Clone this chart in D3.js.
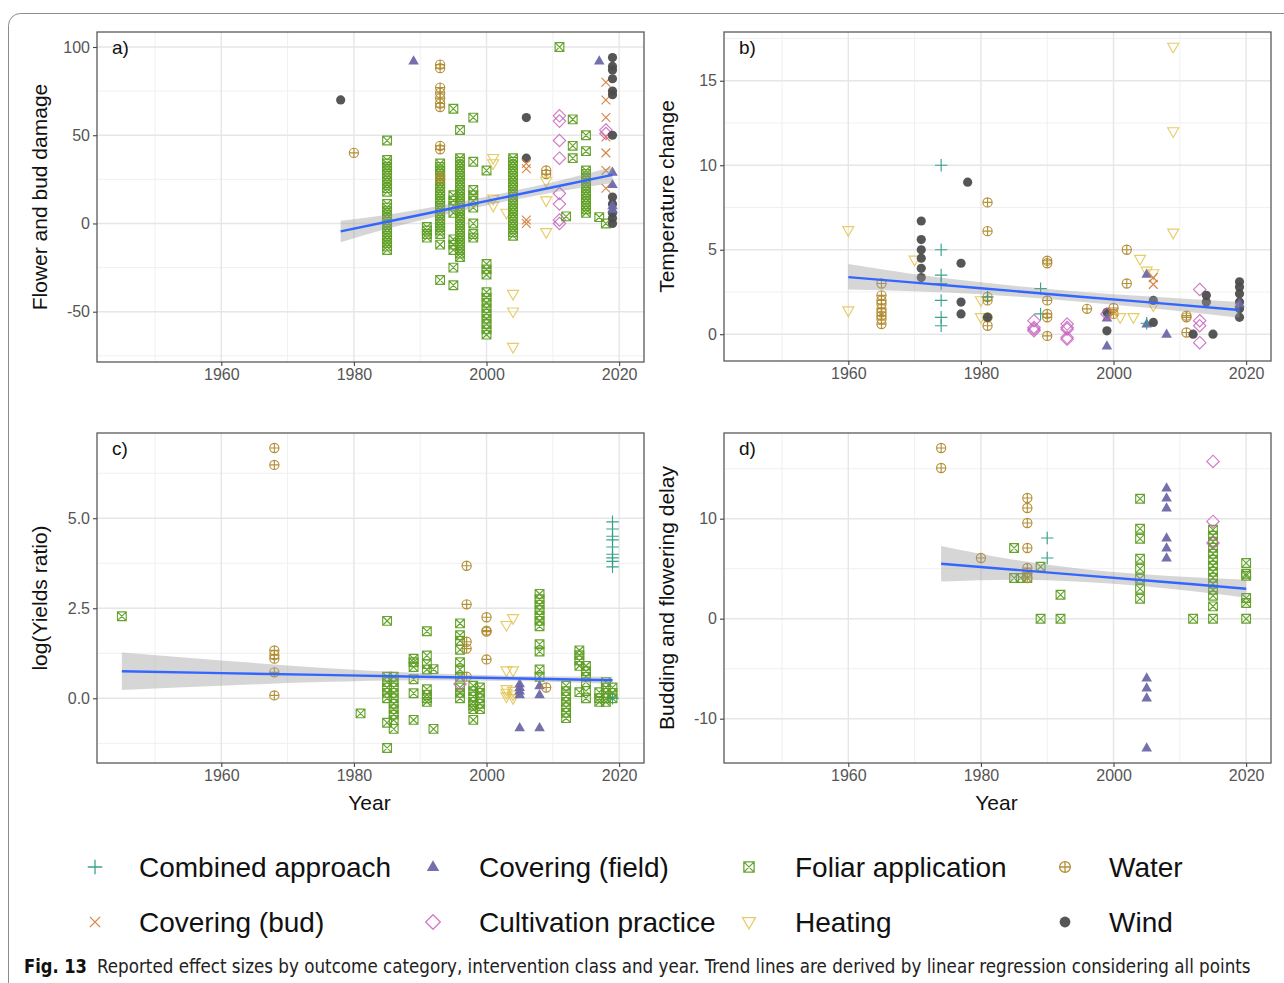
<!DOCTYPE html>
<html><head><meta charset="utf-8">
<script src="https://cdn.jsdelivr.net/npm/d3@7"></script>
<style>body{margin:0;background:#fff}svg{display:block}</style>
</head><body>
<svg id="chart" width="1284" height="983"></svg>
<script>
// ---------------- DATA ----------------
const categories = ["Combined approach","Covering (bud)","Covering (field)","Cultivation practice","Foliar application","Heating","Water","Wind"];
const categoryCodes = ["C","B","T","P","F","H","W","N"];
const categoryColors = ["#2e9e86","#d4803c","#6c68a6","#c862bd","#5f9f24","#e2c44e","#b08a2e","#4d4d4d"];
const yearTicks = [1960,1980,2000,2020];
const panelLabels = ["a)","b)","c)","d)"];
const yTitles = ["Flower and bud damage","Temperature change","log(Yields ratio)","Budding and flowering delay"];
const yTicksA = [-50,0,50,100];
const yTicksB = [0,5,10,15];
const yTicksC = [0,2.5,5];
const yTicksD = [-10,0,10];
const xTitle = "Year";
const caption = "Reported effect sizes by outcome category, intervention class and year. Trend lines are derived by linear regression considering all points";
const captionLead = "Fig. 13";

// points: [class code, year, [values]]
const pointsA = [
  ["N",1978,[70]],["W",1980,[40]],["T",1989,[92]],
  ["F",1985,[47,36,34,32,30,28,26,24,22,20,18,11,9,7,5,3,1,-1,-3,-5,-7,-9,-11,-13,-15]],
  ["F",1991,[-2,-4,-6,-8]],
  ["F",1993,[34,32,30,28,26,24,22,20,18,16,14,12,10,8,6,4,2,0,-2,-4,-6,-12,-32]],
  ["W",1993,[90,88,77,74,71,68,66,44,42,27,25]],
  ["F",1995,[65,16,13,10,6,-9,-12,-15,-25,-35]],
  ["F",1996,[53,37,35,33,31,29,27,25,23,21,19,17,15,13,11,9,7,5,3,1,-1,-3,-5,-7,-9,-11,-13,-15,-17,-19]],
  ["F",1998,[60,35,19,16,13,9,0,-6,-8]],
  ["F",2000,[30,-23,-26,-29,-39,-42,-45,-48,-51,-54,-57,-60,-63]],
  ["H",2001,[37,34,14,10]],["H",2003,[6]],
  ["F",2004,[37,35,33,31,29,27,25,23,21,19,17,15,13,11,9,7,5,3,1,-1,-3,-5,-7]],
  ["H",2004,[-40,-50,-70]],
  ["N",2006,[60,37]],["B",2006,[34,31,2,0]],
  ["W",2009,[30,28]],["H",2009,[24,13,-5]],
  ["P",2011,[61,58,47,37,17,11,2,0]],["F",2011,[100]],["F",2012,[4]],["F",2013,[59,44,37]],
  ["F",2015,[50,41,30,28,26,24,22,20,18,16,14,12,10,8,6]],
  ["F",2017,[3.6]],["F",2018,[0]],["T",2017,[92]],
  ["B",2018,[80,70,60,49,40,30,20]],["P",2018,[53,51]],
  ["N",2019,[94,89,87,82,75,73,50,15,11,6,3,0]],["T",2019,[29,22,10,8]]
];
const pointsB = [
  ["H",1960,[6.15,1.4]],["W",1965,[3.0,2.3,2.0,1.8,1.5,1.3,1.1,0.9,0.6]],
  ["H",1970,[4.4]],["N",1971,[6.7,5.6,5.0,4.5,3.9,3.35]],
  ["C",1974,[10,5,3.5,3.0,2.0,1.0,0.5]],
  ["N",1977,[4.2,1.9,1.2]],["N",1978,[9.0]],
  ["H",1980,[2.0,1.0]],["W",1981,[7.8,6.1,2.2,2.0,1.0,0.5]],["N",1981,[1.0]],["C",1981,[2.2]],
  ["P",1988,[0.8,0.4,0.3,0.2]],["C",1989,[2.7,1.2]],
  ["W",1990,[4.35,4.2,2.0,1.2,1.0,-0.1]],
  ["P",1993,[0.6,0.4,0.3,-0.2,-0.3]],["W",1996,[1.5]],
  ["N",1999,[1.3,0.2]],["T",1999,[0.95,-0.7]],["P",1999,[1.2]],
  ["W",2000,[1.55,1.2]],["B",2000,[1.3]],
  ["H",2001,[1.0]],["W",2002,[5.0,3.0]],["H",2003,[1.0]],["H",2004,[4.45]],["H",2005,[3.75]],
  ["T",2005,[3.55,0.6]],["C",2005,[0.65]],
  ["H",2006,[3.6,1.7]],["B",2006,[3.35,2.95]],["N",2006,[2.0,0.7]],
  ["T",2008,[0]],["H",2009,[17.0,12.0,6.0]],
  ["W",2011,[1.1,1.0,0.1]],["N",2012,[0]],
  ["P",2013,[2.65,0.8,0.5,-0.5]],["N",2014,[2.3,1.9]],["N",2015,[0]],
  ["N",2019,[3.1,2.8,2.4,1.9,1.5,1.0]],["T",2019,[1.8]]
];
const pointsC = [
  ["F",1945,[2.28]],["W",1968,[6.95,6.48,1.33,1.2,1.1,0.72,0.08]],
  ["F",1981,[-0.42]],
  ["F",1985,[2.15,0.6,0.45,0.3,0.15,0,-0.68,-1.38]],
  ["F",1986,[0.6,0.45,0.3,0.15,0,-0.15,-0.3,-0.45,-0.6,-0.85]],
  ["F",1989,[1.1,1.0,0.87,0.53,0.14,-0.6]],
  ["F",1991,[1.86,1.19,0.95,0.8,0.25,0.1,0,-0.1]],
  ["F",1992,[0.81,-0.85]],
  ["F",1996,[2.08,1.75,1.6,1.35,1.0,0.8,0.6,0.3,0.15,0]],["P",1996,[0.4]],
  ["W",1997,[3.68,2.61,1.57,1.38,0.6]],
  ["F",1998,[0.35,0.2,0.05,-0.1,-0.2,-0.3,-0.6]],
  ["F",1999,[0.3,0.15,0,-0.15,-0.3]],
  ["W",2000,[2.25,1.88,1.85,1.08]],
  ["H",2003,[2.03,0.77,0.25,0.15,0.05]],["H",2004,[2.22,0.77,0.2,0.1,0]],
  ["T",2005,[0.4,0.3,0.2,0.1,-0.82]],
  ["F",2008,[2.9,2.75,2.6,2.45,2.3,2.15,2.0,1.5,1.3,0.8,0.6]],["T",2008,[0.35,0.1,-0.82]],
  ["W",2009,[0.3]],
  ["F",2012,[0.35,0.2,0.05,-0.1,-0.25,-0.4,-0.55]],
  ["F",2014,[1.33,1.2,1.05,0.9,0.17]],
  ["F",2015,[0.9,0.75,0.6,0.45,0.2,0]],
  ["F",2017,[0.17,0,-0.1]],["F",2018,[0.45,0.3,0.15,0,-0.1]],["F",2019,[0.3,0.15,0]],
  ["C",2019,[4.9,4.7,4.5,4.4,4.2,4.0,3.9,3.8,3.65,0]]
];
const pointsD = [
  ["W",1974,[17.07,15.07]],["W",1980,[6.07]],
  ["F",1985,[7.07,4.07]],["F",1986,[4.07]],["F",1987,[4.07]],
  ["W",1987,[12.07,11.07,9.57,7.07,5.07,4.6,4.07]],
  ["F",1989,[5.2,0]],["C",1990,[8.07,6.07]],["F",1992,[2.4,0]],
  ["F",2004,[12,9,8,6,5,4,3,2]],
  ["T",2005,[-5.93,-6.93,-7.93,-12.93]],
  ["T",2008,[13.07,12.07,11.07,8.07,7.07,6.07]],
  ["F",2012,[0]],
  ["F",2015,[8.9,8.3,7.7,7.1,6.5,5.9,5.3,4.7,4.1,3.5,2.9,2.3,1.23,0]],
  ["P",2015,[15.73,9.73,7.57]],
  ["F",2020,[5.57,4.5,4.3,2.07,1.57,0]]
];
// trend: [year, fit, lower, upper]
const trendA = [[1978,-4.5,-10.6,1.6],[1985,1.0,-3.0,5.0],[1993,7.2,4.4,10.0],[2001,13.5,11.0,16.0],[2010,20.5,17.6,23.4],[2019,27.5,23.0,32.0]];
const trendB = [[1960,3.38,2.65,4.15],[1970,3.05,2.55,3.55],[1980,2.72,2.37,3.07],[1995,2.22,1.92,2.52],[2005,1.9,1.56,2.24],[2019,1.43,0.98,1.9]];
const trendC = [[1945,0.75,0.23,1.27],[1960,0.70,0.35,1.05],[1975,0.65,0.45,0.85],[1990,0.6,0.5,0.7],[2005,0.55,0.48,0.62],[2019,0.5,0.4,0.6]];
const trendD = [[1974,5.5,3.72,7.28],[1985,4.9,3.9,5.9],[1995,4.36,3.7,5.0],[2005,3.82,3.22,4.42],[2012,3.44,2.74,4.14],[2020,3.0,2.1,3.9]];

// ---------------- DRAWING ----------------
const svg = d3.select("#chart");
const FONT = "'Liberation Sans', Arial, Helvetica, sans-serif";
const color = d3.scaleOrdinal().domain(categoryCodes).range(categoryColors);
const hyphen = f => (d => f(d).replace("\u2212", "-"));

// outer frame
svg.append("rect").attr("x",8.5).attr("y",13.5).attr("width",1300).attr("height",1000)
  .attr("rx",12).attr("fill","none").attr("stroke","#8c8c8c").attr("stroke-width",1);

function shapePath(code, r) {
  switch (code) {
    case "C": { const a = r*1.35; return `M${-a},0H${a}M0,${-a}V${a}`; }
    case "B": { const a = r*0.95; return `M${-a},${-a}L${a},${a}M${-a},${a}L${a},${-a}`; }
    case "T": return `M0,${-r*1.25}L${r*1.15},${r*0.75}L${-r*1.15},${r*0.75}Z`;
    case "P": { const a = r*1.35; return `M0,${-a}L${a},0L0,${a}L${-a},0Z`; }
    case "F": { const a = r*0.95; return `M${-a},${-a}H${a}V${a}H${-a}ZM${-a},${-a}L${a},${a}M${-a},${a}L${a},${-a}`; }
    case "H": return `M${-r*1.2},${-r*0.8}H${r*1.2}L0,${r*1.3}Z`;
    case "W": return `M${-r},0A${r},${r} 0 1 0 ${r},0A${r},${r} 0 1 0 ${-r},0ZM${-r},0H${r}M0,${-r}V${r}`;
    case "N": return `M${-r},0A${r},${r} 0 1 0 ${r},0A${r},${r} 0 1 0 ${-r},0Z`;
  }
}
function drawShape(g, code, x, y, r, sw) {
  const filled = code === "T" || code === "N";
  g.append("path").attr("d", shapePath(code, r))
    .attr("transform", `translate(${x},${y})`)
    .attr("fill", filled ? color(code) : "none")
    .attr("stroke", filled ? "none" : color(code))
    .attr("stroke-width", sw)
    .attr("opacity", code === "H" || code === "P" ? 0.85 : 0.95);
}

const allYears = [pointsA,pointsB,pointsC,pointsD].flatMap(p => p.map(d => d[1]));
const yrExt = d3.extent(allYears);
const yrPad = (yrExt[1]-yrExt[0])*0.05;
const xDomain = [yrExt[0]-yrPad, yrExt[1]+yrPad];

const panels = [
  {pts: pointsA, trend: trendA, ticks: yTicksA, fmt: hyphen(d3.format("d")), box: [97,32,644,362], xt: false},
  {pts: pointsB, trend: trendB, ticks: yTicksB, fmt: hyphen(d3.format("d")), box: [724,32,1271,361], xt: false},
  {pts: pointsC, trend: trendC, ticks: yTicksC, fmt: hyphen(d3.format(".1f")), box: [97,433,644,763], xt: true},
  {pts: pointsD, trend: trendD, ticks: yTicksD, fmt: hyphen(d3.format("d")), box: [724,433,1271,763], xt: true}
];

panels.forEach((p, i) => {
  const [x0,y0,x1,y1] = p.box;
  const vals = p.pts.flatMap(d => d[2]);
  const ext = d3.extent(vals);
  const pad = (ext[1]-ext[0])*0.05;
  const x = d3.scaleLinear().domain(xDomain).range([x0,x1]);
  const y = d3.scaleLinear().domain([ext[0]-pad, ext[1]+pad]).range([y1,y0]);
  const g = svg.append("g");

  // grid
  const xs = yearTicks[1]-yearTicks[0];
  const xMinor = yearTicks.map(t => t - xs/2).concat([yearTicks[yearTicks.length-1]+xs/2])
    .filter(v => v > xDomain[0] && v < xDomain[1]);
  const ys = p.ticks[1]-p.ticks[0];
  const yMinor = p.ticks.map(t => t - ys/2).concat([p.ticks[p.ticks.length-1]+ys/2])
    .filter(v => v > y.domain()[0] && v < y.domain()[1]);
  g.selectAll(".gxm").data(xMinor).join("line")
    .attr("x1", d=>x(d)).attr("x2", d=>x(d)).attr("y1",y0).attr("y2",y1)
    .attr("stroke","#f0f0f0").attr("stroke-width",1);
  g.selectAll(".gym").data(yMinor).join("line")
    .attr("y1", d=>y(d)).attr("y2", d=>y(d)).attr("x1",x0).attr("x2",x1)
    .attr("stroke","#f0f0f0").attr("stroke-width",1);
  g.selectAll(".gx").data(yearTicks).join("line")
    .attr("x1", d=>x(d)).attr("x2", d=>x(d)).attr("y1",y0).attr("y2",y1)
    .attr("stroke","#e6e6e6").attr("stroke-width",1.4);
  g.selectAll(".gy").data(p.ticks).join("line")
    .attr("y1", d=>y(d)).attr("y2", d=>y(d)).attr("x1",x0).attr("x2",x1)
    .attr("stroke","#e6e6e6").attr("stroke-width",1.4);

  // points
  const pg = g.append("g");
  p.pts.forEach(([code, yr, vs]) => {
    vs.forEach(v => drawShape(pg, code, x(yr), y(v), 4.6, 1.15));
  });

  // ribbon + trend
  const area = d3.area().curve(d3.curveMonotoneX)
    .x(d => x(d[0])).y0(d => y(d[2])).y1(d => y(d[3]));
  g.append("path").datum(p.trend).attr("d", area).attr("fill","#999999").attr("opacity",0.4);
  const line = d3.line().x(d => x(d[0])).y(d => y(d[1]));
  g.append("path").datum(p.trend).attr("d", line).attr("fill","none")
    .attr("stroke","#3366FF").attr("stroke-width",2.4);

  // border
  g.append("rect").attr("x",x0).attr("y",y0).attr("width",x1-x0).attr("height",y1-y0)
    .attr("fill","none").attr("stroke","#5a5a5a").attr("stroke-width",1.3);

  // axes
  const ax = g.append("g").attr("transform",`translate(0,${y1})`)
    .call(d3.axisBottom(x).tickValues(yearTicks).tickSize(4).tickPadding(3).tickFormat(d3.format("d")));
  const ay = g.append("g").attr("transform",`translate(${x0},0)`)
    .call(d3.axisLeft(y).tickValues(p.ticks).tickSize(4).tickPadding(3).tickFormat(p.fmt));
  [ax, ay].forEach(a => {
    a.select(".domain").remove();
    a.selectAll(".tick line").attr("stroke","#444").attr("stroke-width",1.1);
    a.selectAll(".tick text").attr("fill","#555").attr("font-size",16).attr("font-family",FONT);
  });

  // panel label
  g.append("text").attr("x", x0+15).attr("y", y0+22).text(panelLabels[i])
    .attr("font-family",FONT).attr("font-size",19).attr("fill","#111");

  // y title
  g.append("text").attr("transform",`translate(${x0-50},${(y0+y1)/2}) rotate(-90)`)
    .attr("text-anchor","middle").text(yTitles[i])
    .attr("font-family",FONT).attr("font-size",21).attr("fill","#111");

  if (p.xt) {
    g.append("text").attr("x", (x0+x1)/2 - 1).attr("y", y1+47).attr("text-anchor","middle")
      .text(xTitle).attr("font-family",FONT).attr("font-size",21).attr("fill","#111");
  }
});

// legend
const lg = svg.append("g");
const colSym = [95,433,749,1065], colTxt = [139,479,795,1109], rowY = [867,922];
categories.forEach((name, i) => {
  const c = Math.floor(i/2), r = i % 2;
  const code = categoryCodes[i];
  drawShape(lg, code, colSym[c], rowY[r], 5.4, 1.3);
  lg.append("text").attr("x", colTxt[c]).attr("y", rowY[r]).attr("dy","0.35em")
    .text(name).attr("font-family",FONT).attr("font-size",28).attr("fill","#111");
});

// caption (horizontally condensed to the reference width)
const CAPFONT = "'Liberation Sans Narrow','DejaVu Sans Condensed',Arial,sans-serif";
function fitText(txt, x, targetW, weight, fill) {
  const t = svg.append("text").attr("x",0).attr("y",0).text(txt)
    .attr("font-family",CAPFONT).attr("font-weight",weight).attr("font-size",20).attr("fill",fill);
  const w = t.node().getComputedTextLength();
  t.attr("transform",`translate(${x},973) scale(${targetW/w},1)`);
}
fitText(captionLead, 24, 63, "bold", "#111");
fitText(caption, 97, 1154, "normal", "#222");
</script>
</body></html>
